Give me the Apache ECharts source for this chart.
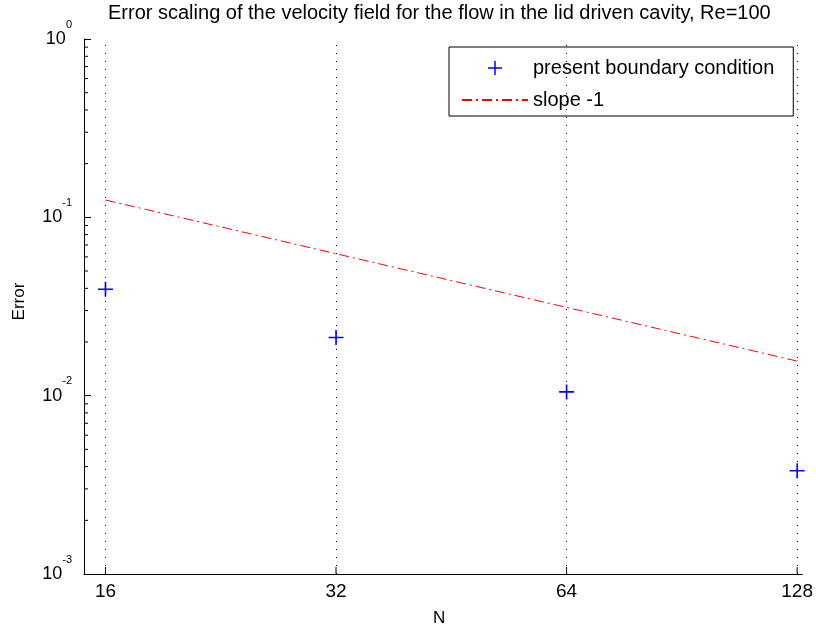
<!DOCTYPE html>
<html>
<head>
<meta charset="utf-8">
<script src="https://cdn.jsdelivr.net/npm/echarts@6/dist/echarts.min.js"></script>
<style>html,body{margin:0;padding:0;background:#fff;}#c{width:816px;height:632px;}</style>
</head>
<body>
<div id="c"></div>
<script>
// ---- data ----
const titleText = 'Error scaling of the velocity field for the flow in the lid driven cavity, Re=100';
const xTicks = [16, 32, 64, 128];
const yTicks = [0.001, 0.01, 0.1, 1];
const yMinorTicks = [0.002, 0.003, 0.004, 0.005, 0.006, 0.007, 0.008, 0.009,
                     0.02, 0.03, 0.04, 0.05, 0.06, 0.07, 0.08, 0.09,
                     0.2, 0.3, 0.4, 0.5, 0.6, 0.7, 0.8, 0.9];
const xRange = [15, 130];
const yRange = [0.001, 1];
const N = [16, 32, 64, 128];
const errPresent = [0.0395, 0.0212, 0.0105, 0.00379];
const slopeN = [16, 128];
const slopeErr = [0.125, 0.015625];
const seriesNames = ['present boundary condition', 'slope -1'];

const FONT = "'Liberation Sans', Arial, Helvetica, sans-serif";
const plusPath = 'path://M6.25,0H7.75V6.25H14V7.75H7.75V14H6.25V7.75H0V6.25H6.25Z';

const chart = echarts.init(document.getElementById('c'), null, {renderer: 'canvas'});

function isTick(v, list) {
  return list.some(t => Math.abs(t - v) / t < 1e-6);
}

const option = {
  backgroundColor: '#fff',
  animation: false,
  textStyle: {fontFamily: FONT},
  title: {
    text: titleText,
    left: 108,
    top: 3,
    padding: 0,
    textStyle: {fontFamily: FONT, fontSize: 20, fontWeight: 'normal', color: '#000', lineHeight: 20}
  },
  grid: {left: 84, right: 12, top: 39, bottom: 55, containLabel: false},
  legend: {
    orient: 'vertical',
    left: 449,
    top: 47,
    padding: [11, 19, 6, 12],
    itemWidth: 66,
    itemHeight: 14,
    itemGap: 12,
    borderColor: '#000',
    borderWidth: 1,
    borderRadius: 0,
    backgroundColor: '#fff',
    symbolKeepAspect: true,
    textStyle: {fontFamily: FONT, fontSize: 20, color: '#000', lineHeight: 20},
    data: [
      {name: seriesNames[0], icon: plusPath},
      {name: seriesNames[1], itemStyle: {opacity: 0}}
    ]
  },
  xAxis: {
    type: 'log',
    logBase: 2,
    min: xRange[0],
    max: xRange[1],
    name: 'N',
    nameLocation: 'middle',
    nameGap: 36,
    nameTextStyle: {fontFamily: FONT, fontSize: 17, color: '#000', padding: [0, 8, 0, 0]},
    axisLine: {show: true, onZero: false, lineStyle: {color: '#000', width: 1}},
    axisTick: {show: false},
    splitLine: {show: false},
    minorTick: {show: false},
    axisLabel: {
      margin: 8,
      fontFamily: FONT,
      fontSize: 19,
      color: '#000',
      showMinLabel: true,
      showMaxLabel: true,
      formatter: function (v) {
        return isTick(v, xTicks) ? String(Math.round(v)) : '';
      }
    }
  },
  yAxis: {
    type: 'log',
    logBase: 10,
    min: yRange[0],
    max: yRange[1],
    interval: 1,
    name: 'Error',
    nameLocation: 'middle',
    nameGap: 56,
    nameRotate: 90,
    nameTextStyle: {fontFamily: FONT, fontSize: 17, color: '#000', padding: [0, 0, 0, 10]},
    axisLine: {show: true, onZero: false, lineStyle: {color: '#000', width: 1}},
    axisTick: {show: true, inside: true, length: 7, lineStyle: {color: '#000', width: 1}},
    splitLine: {show: false},
    axisLabel: {
      margin: 12,
      color: '#000',
      formatter: function (v) {
        const e = Math.round(Math.log10(v));
        return '{b|10}{s|' + e + '}';
      },
      rich: {
        b: {fontFamily: FONT, fontSize: 18, lineHeight: 40, color: '#000'},
        s: {fontFamily: FONT, fontSize: 11, lineHeight: 11, color: '#000', verticalAlign: 'top'}
      }
    }
  },
  series: [
    {
      name: seriesNames[1],
      type: 'line',
      data: slopeN.map((n, i) => [n, slopeErr[i]]),
      symbol: 'none',
      showSymbol: false,
      lineStyle: {color: '#ff0000', width: 1, type: [10, 4, 2, 4]},
      itemStyle: {color: '#ff0000'},
      z: 3,
      silent: true
    },
    {
      name: seriesNames[0],
      type: 'scatter',
      data: N.map((n, i) => [n, errPresent[i]]),
      symbol: plusPath,
      symbolSize: 15,
      symbolKeepAspect: true,
      itemStyle: {color: '#0000ff', opacity: 1},
      z: 4,
      markLine: {
        silent: true,
        symbol: ['none', 'none'],
        label: {show: false},
        lineStyle: {color: '#000', width: 1, type: [1, 7]},
        emphasis: {disabled: true},
        data: xTicks.map(v => ({xAxis: v}))
      }
    },
    {
      name: 'xTickMarks',
      type: 'custom',
      silent: true,
      z: 5,
      data: xTicks.map(v => [v, yRange[0]]),
      renderItem: function (params, api) {
        const p = api.coord([api.value(0), api.value(1)]);
        return {
          type: 'line',
          shape: {x1: p[0], y1: p[1], x2: p[0], y2: p[1] - 7},
          style: {stroke: '#000', lineWidth: 1}
        };
      }
    },
    {
      name: 'yMinorTickMarks',
      type: 'custom',
      silent: true,
      z: 5,
      data: yMinorTicks.map(v => [xRange[0], v]),
      renderItem: function (params, api) {
        const p = api.coord([api.value(0), api.value(1)]);
        return {
          type: 'line',
          shape: {x1: p[0], y1: p[1], x2: p[0] + 4, y2: p[1]},
          style: {stroke: '#000', lineWidth: 1}
        };
      }
    }
  ]
};

chart.setOption(option);
</script>
</body>
</html>
